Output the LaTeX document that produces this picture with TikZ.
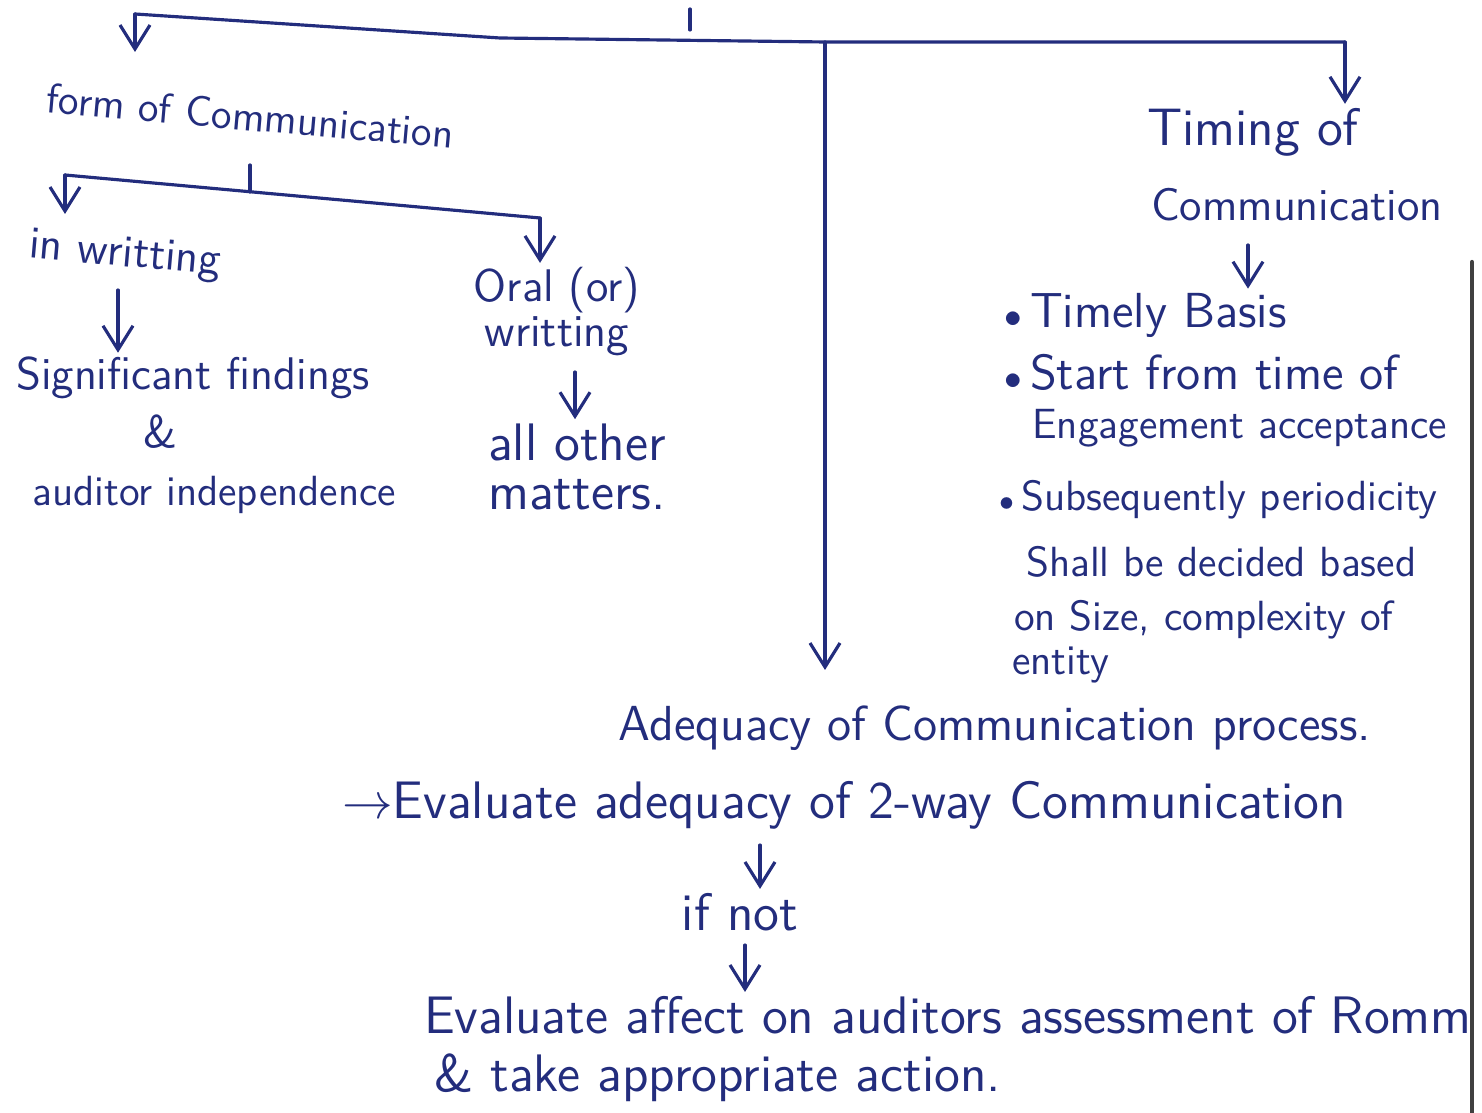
\documentclass[tikz,border=0pt]{standalone}
\usepackage{tikz}
\usetikzlibrary{arrows.meta}
\definecolor{ink}{RGB}{35,45,125}
\newcommand{\hdot}{$\scriptstyle\bullet$\,}
\begin{document}
\begin{tikzpicture}[x=0.01cm, y=-0.01cm, line cap=round, line join=round,
    txt/.style={inner sep=1pt, text=ink, font=\sffamily\fontsize{13}{16}\selectfont},
    txtS/.style={txt, font=\sffamily\fontsize{12}{14}\selectfont},
    txtM/.style={txt, font=\sffamily\fontsize{14}{17}\selectfont},
    txtL/.style={txt, font=\sffamily\fontsize{15}{18}\selectfont},
    link/.style={draw=ink, line width=0.9pt},
    arr/.style={link, -{Straight Barb[length=2.4mm, width=3mm]}}]
  \useasboundingbox (0,0) rectangle (1482,1113);
  % top bracket
  \coordinate (root) at (690,9);
  \coordinate (rootb) at (690,30);
  \coordinate (barL) at (135,14);
  \coordinate (barK) at (500,38);
  \coordinate (barM) at (825,42);
  \coordinate (barR) at (1345,42);
  \node[txtS, rotate=-5] (form) at (250,116) {form of Communication};
  \node[txtL] (timing) at (1253,132) {Timing of};
  \node[txt] (tcomm) at (1297,205) {Communication};
  \node[txtM] (adeq) at (995,728) {Adequacy of Communication process.};
  \draw[link] (root) -- (rootb);
  \draw[link] (barL) -- (barK) -- (barM) -- (barR);
  \draw[arr] (barL) -- (135,52);
  \draw[arr] (barR) -- (barR |- timing.north);
  \draw[arr] (barM) -- (825,670);
  % form of communication
  \coordinate (froot) at (250,165);
  \coordinate (frootb) at (250,192);
  \coordinate (fbarL) at (65,175);
  \coordinate (fbarR) at (540,218);
  \node[txt, rotate=-5] (writ) at (125,256) {in writting};
  \node[txt, anchor=west] (sig) at (12,378) {Significant findings};
  \node[txt] (amp) at (160,432) {\&};
  \node[txtS, anchor=west] (aud) at (28,495) {auditor independence};
  \node[txt] (oral) at (557,290) {Oral (or)};
  \node[txt] (oralw) at (557,336) {writting};
  \node[txtL] (other) at (577,442) {all other};
  \node[txtL] (matt) at (577,495) {matters.};
  \draw[link] (froot) -- (frootb);
  \draw[link] (fbarL) -- (fbarR);
  \draw[arr] (fbarL) -- (65,214);
  \draw[arr] (fbarR) -- (fbarR |- oral.north);
  \draw[arr] (118,290) -- (118,0 |- sig.north);
  \draw[arr] (575,372) -- (575,0 |- other.north);
  % timing of communication
  \node[txtM, anchor=west] (tb1) at (1000,315) {\hdot Timely Basis};
  \node[txtM, anchor=west] (tb2) at (1000,372) {\hdot Start from time of};
  \node[txtS, anchor=west] (tb2b) at (1028,428) {Engagement acceptance};
  \node[txtS, anchor=west] (tb3) at (995,500) {\hdot Subsequently periodicity};
  \node[txtS, anchor=west] (tb3b) at (1022,562) {Shall be decided based};
  \node[txtS, anchor=west] (tb3c) at (1010,620) {on Size, complexity of};
  \node[txtS, anchor=west] (tb3d) at (1008,665) {entity};
  \draw[arr] (1248,245) -- (1248,0 |- tb1.north);
  % adequacy
  \node[txtL, anchor=west] (eval) at (338,805) {$\to$Evaluate adequacy of 2-way Communication};
  \node[txtL] (ifnot) at (740,912) {if not};
  \node[txtL, anchor=west] (eff) at (420,1015) {Evaluate affect on auditors assessment of Romm};
  \node[txtL, anchor=west] (act) at (430,1078) {\& take appropriate action.};
  \draw[arr] (760,845) -- (760,0 |- ifnot.north);
  \draw[arr] (745,945) -- (745,0 |- eff.north);
  % edge of the sheet
  \draw[black!75, line width=1.2pt] (1472,262) -- (1472,1113);
\end{tikzpicture}
\end{document}
